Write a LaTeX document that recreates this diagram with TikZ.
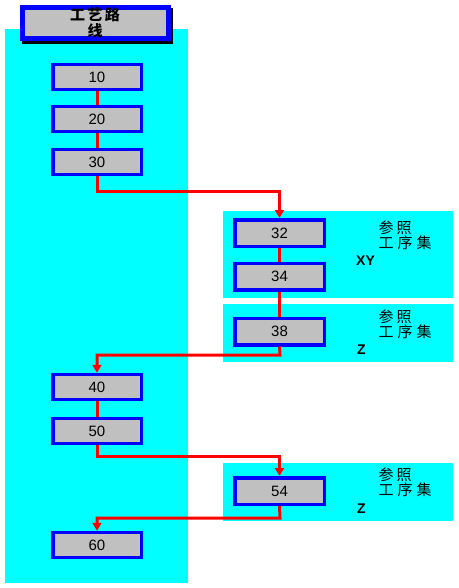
\documentclass[tikz,border=0pt]{standalone}
\usepackage{fontspec}
\setmainfont{Liberation Sans}
\newfontfamily\cjk{Noto Sans CJK SC}
\usetikzlibrary{arrows.meta}
\definecolor{cyanbg}{RGB}{0,255,255}
\definecolor{boxgray}{RGB}{192,192,192}
\definecolor{boxblue}{RGB}{0,0,255}
\definecolor{linered}{RGB}{255,0,0}
\begin{document}
\begin{tikzpicture}[x=1pt,y=-1pt,
  opbox/.style={draw=boxblue, line width=3.5pt, fill=boxgray, minimum width=88.5pt, minimum height=25pt, inner sep=0pt, font=\fontsize{15}{15}\selectfont},
  rbox/.style={opbox, minimum width=89.5pt, minimum height=26.5pt},
  link/.style={draw=linered, line width=3pt},
  flow/.style={link, -{Triangle[width=9pt,length=8pt]}},
  cjklabel/.style={font=\cjk\fontsize{15}{15}\selectfont, inner sep=0pt, align=left},
  codelabel/.style={font=\bfseries\fontsize{14}{15}\selectfont, inner sep=0pt}
]
\useasboundingbox (0,0) rectangle (458,588);
% panels
\fill[cyanbg] (5,29) rectangle (188,583);
\fill[cyanbg] (223,211) rectangle (453,298);
\fill[cyanbg] (223,304) rectangle (453,362);
\fill[cyanbg] (223,463) rectangle (453,521);
% title
\fill[black] (22,8.5) rectangle (173,44);
\node[draw=boxblue, line width=5pt, fill=boxgray, minimum width=146pt, minimum height=31pt, inner sep=0pt, align=center,
  font=\cjk\bfseries\fontsize{15}{16}\selectfont] (title) at (95,23) {工\hspace{2.5pt}艺\hspace{2.5pt}路\\线};
% left boxes
\node[opbox] (n10) at (97,77) {10};
\node[opbox] (n20) at (97,119) {20};
\node[opbox] (n30) at (97,162) {30};
\node[opbox] (n40) at (97,387) {40};
\node[opbox] (n50) at (97,431) {50};
\node[opbox] (n60) at (97,545) {60};
% right boxes
\node[rbox] (n32) at (279.5,233) {32};
\node[rbox] (n34) at (279.5,276.5) {34};
\node[rbox] (n38) at (279.5,331.5) {38};
\node[rbox] (n54) at (279.5,491) {54};
% labels
\node[cjklabel, anchor=north west] (r1) at (378.5,220.5) {参\hspace{3pt}照\\工\hspace{4pt}序\hspace{4pt}集};
\node[codelabel, anchor=west] (c1) at (356,261) {XY};
\node[cjklabel, anchor=north west] (r2) at (378.5,310) {参\hspace{3pt}照\\工\hspace{4pt}序\hspace{4pt}集};
\node[codelabel, anchor=west] (c2) at (357,350) {Z};
\node[cjklabel, anchor=north west] (r3) at (378.5,468) {参\hspace{3pt}照\\工\hspace{4pt}序\hspace{4pt}集};
\node[codelabel, anchor=west] (c3) at (357,509) {Z};
% connectors
\path[link] (n10) -- (n20);
\path[link] (n20) -- (n30);
\path[link] (n32) -- (n34);
\path[link] (n34) -- (n38);
\path[link] (n40) -- (n50);
\coordinate (k1) at (97,191);
\coordinate (k2) at (280,355);
\coordinate (k3) at (97,456);
\coordinate (k4) at (280,518);
\path[flow] (n30.south) -- (k1) -| (n32.north);
\path[flow] (n38.south) -- (k2) -| (n40.north);
\path[flow] (n50.south) -- (k3) -| (n54.north);
\path[flow] (n54.south) -- (k4) -| (n60.north);
\end{tikzpicture}
\end{document}
